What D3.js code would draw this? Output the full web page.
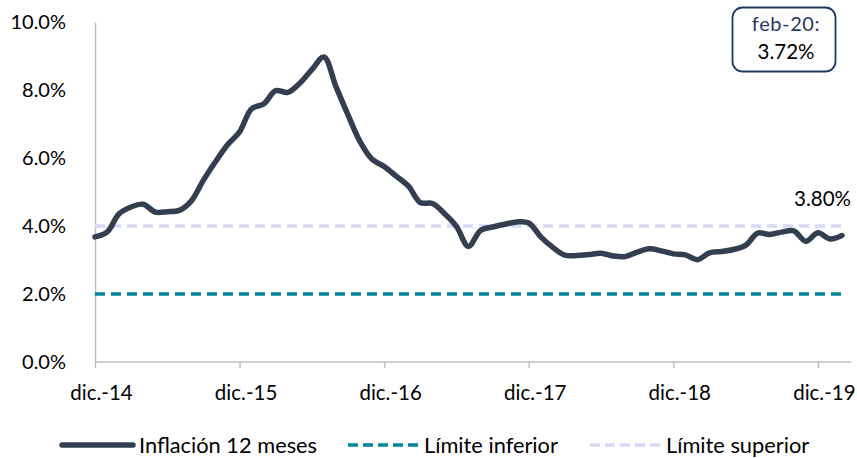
<!DOCTYPE html>
<html>
<head>
<meta charset="utf-8">
<script src="https://cdn.jsdelivr.net/npm/d3@7"></script>
<style>
  body { margin: 0; background: #fff; }
  text { font-family: Lato, "Noto Sans", sans-serif; fill: #000; }
</style>
</head>
<body>
<div id="chart"></div>
<script>
// monthly, dic.-14 .. feb.-20
const months = [
  "dic-14",
  "ene-15","feb-15","mar-15","abr-15","may-15","jun-15","jul-15","ago-15","sep-15","oct-15","nov-15","dic-15",
  "ene-16","feb-16","mar-16","abr-16","may-16","jun-16","jul-16","ago-16","sep-16","oct-16","nov-16","dic-16",
  "ene-17","feb-17","mar-17","abr-17","may-17","jun-17","jul-17","ago-17","sep-17","oct-17","nov-17","dic-17",
  "ene-18","feb-18","mar-18","abr-18","may-18","jun-18","jul-18","ago-18","sep-18","oct-18","nov-18","dic-18",
  "ene-19","feb-19","mar-19","abr-19","may-19","jun-19","jul-19","ago-19","sep-19","oct-19","nov-19","dic-19",
  "ene-20","feb-20"
];
const inflation = [
  3.68,
  3.82, 4.36, 4.56, 4.64, 4.41, 4.42, 4.46, 4.74, 5.35, 5.89, 6.39, 6.77,
  7.45, 7.59, 7.98, 7.93, 8.20, 8.60, 8.97, 8.10, 7.27, 6.48, 5.96, 5.75,
  5.47, 5.18, 4.69, 4.66, 4.37, 3.99, 3.40, 3.87, 3.97, 4.05, 4.12, 4.09,
  3.68, 3.37, 3.14, 3.13, 3.16, 3.20, 3.12, 3.10, 3.23, 3.33, 3.27, 3.18,
  3.15, 3.01, 3.21, 3.25, 3.31, 3.43, 3.79, 3.75, 3.82, 3.86, 3.55, 3.80,
  3.62, 3.72
];
const lowerLimit = [2.0, 2.0];
const upperLimit = [4.0, 4.0];
const xTickLabels = ["dic.-14", "dic.-15", "dic.-16", "dic.-17", "dic.-18", "dic.-19"];
const yTicks = [0, 2, 4, 6, 8, 10];
const lastLabel = ["feb-20:", "3.72%"];
const dicLabel = "3.80%";

const width = 857, height = 458;
const colors = { infl: "#333F50", low: "#00869F", up: "#D6DAF5", axis: "#BFBFBF", box: "#1F3864" };

const svg = d3.select("#chart").append("svg")
  .attr("width", width)
  .attr("height", height);

const xScale = d3.scaleLinear().domain([0, 62.75]).range([95, 851]);
const yScale = d3.scaleLinear().domain([0, 10]).range([362, 22]);

// Y axis (line only, labels at left)
const yAxis = svg.append("g")
  .attr("transform", `translate(${xScale(0)},0)`)
  .call(d3.axisLeft(yScale).tickValues(yTicks).tickSize(0).tickPadding(29)
    .tickFormat(d => d.toFixed(1) + "%"));
yAxis.select(".domain").attr("stroke", colors.axis).attr("stroke-width", 1.5);
yAxis.selectAll("text").style("font-size", "20px").attr("fill", "#000");

// X axis
const xAxis = svg.append("g")
  .attr("transform", `translate(0,${yScale(0)})`)
  .call(d3.axisBottom(xScale)
    .tickValues(xTickLabels.map((d, i) => i * 12))
    .tickSize(6)
    .tickFormat((d, i) => xTickLabels[i]));
xAxis.select(".domain").attr("stroke", colors.axis).attr("stroke-width", 1.5)
  .attr("d", `M${xScale(0)},0H${xScale.range()[1]}`);
xAxis.selectAll(".tick line").attr("stroke", colors.axis).attr("stroke-width", 1.5);
xAxis.selectAll("text")
  .attr("y", 38).attr("dy", null).attr("dx", 6)
  .style("font-size", "20.5px").attr("fill", "#000");

// limit lines
const lastIdx = inflation.length - 1;
const limitLine = d3.line()
  .x((d, i) => xScale(i === 0 ? 0 : lastIdx + 0.15))
  .y(d => yScale(d));

svg.append("path")
  .datum(upperLimit)
  .attr("d", limitLine)
  .attr("fill", "none")
  .attr("stroke", colors.up)
  .attr("stroke-width", 3.5)
  .attr("stroke-dasharray", "10,6");

svg.append("path")
  .datum(lowerLimit)
  .attr("d", limitLine)
  .attr("fill", "none")
  .attr("stroke", colors.low)
  .attr("stroke-width", 3.5)
  .attr("stroke-dasharray", "10,6");

// inflation line
const line = d3.line()
  .x((d, i) => xScale(i))
  .y(d => yScale(d))
  .curve(d3.curveCatmullRom.alpha(0.5));

svg.append("path")
  .datum(inflation)
  .attr("d", line)
  .attr("fill", "none")
  .attr("stroke", colors.infl)
  .attr("stroke-width", 5.5)
  .attr("stroke-linejoin", "round")
  .attr("stroke-linecap", "round");

// 3.80% label above dic-19
svg.append("text")
  .attr("x", 851)
  .attr("y", 206)
  .attr("text-anchor", "end")
  .style("font-size", "20.5px")
  .text(dicLabel);

// feb-20 box
const box = svg.append("g");
box.append("rect")
  .attr("x", 732.5).attr("y", 7.5)
  .attr("width", 103).attr("height", 64)
  .attr("rx", 10)
  .attr("fill", "#fff")
  .attr("stroke", colors.box)
  .attr("stroke-width", 1.8);
box.append("text")
  .attr("x", 786).attr("y", 31)
  .attr("text-anchor", "middle")
  .style("font-size", "20px")
  .style("letter-spacing", "0.6px")
  .style("fill", colors.box)
  .text(lastLabel[0]);
box.append("text")
  .attr("x", 786).attr("y", 59)
  .attr("text-anchor", "middle")
  .style("font-size", "20.5px")
  .text(lastLabel[1]);

// legend
const legendItems = [
  { label: "Inflación 12 meses", color: colors.infl, dash: null, w: 5.5, x: 62, len: 71 },
  { label: "Límite inferior", color: colors.low, dash: "10,5", w: 3.5, x: 348, len: 70 },
  { label: "Límite superior", color: colors.up, dash: "10,5", w: 3.5, x: 590, len: 70 }
];
const legend = svg.append("g").attr("transform", "translate(0,445)");
legendItems.forEach(item => {
  legend.append("line")
    .attr("x1", item.x).attr("x2", item.x + item.len)
    .attr("y1", 0).attr("y2", 0)
    .attr("stroke", item.color)
    .attr("stroke-width", item.w)
    .attr("stroke-linecap", item.dash ? "butt" : "round")
    .attr("stroke-dasharray", item.dash);
  legend.append("text")
    .attr("x", item.x + item.len + 6)
    .attr("y", 8)
    .style("font-size", "21.8px")
    .text(item.label);
});
</script>
</body>
</html>
